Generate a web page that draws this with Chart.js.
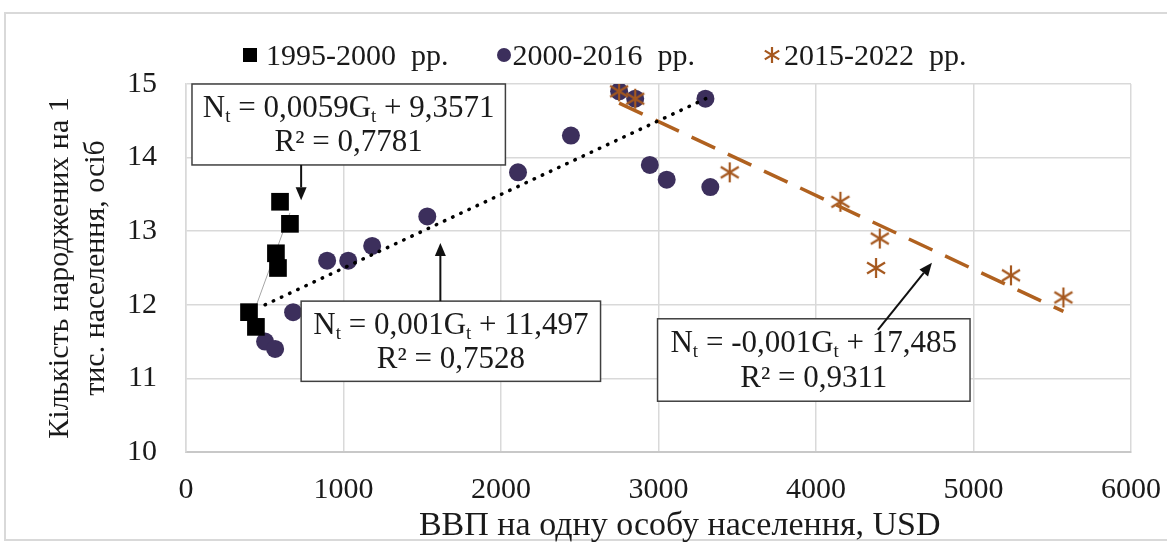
<!DOCTYPE html>
<html lang="uk">
<head>
    <meta charset="UTF-8">
    <script src="https://cdn.jsdelivr.net/npm/chart.js"></script>
    <style>
        body {
            margin: 0;
            background: #fff;
            overflow: hidden;
            font-family: "Liberation Serif", serif;
        }
        .frame {
            position: absolute;
            left: 4px;
            top: 12px;
            width: 1200px;
            height: 525px;
            border: 2px solid #d9d9d9;
        }
        .chart-box {
            position: absolute;
            left: 0;
            top: 0;
            width: 1167px;
            height: 542px;
        }
        .chart-legend {
            position: absolute;
            left: 243px;
            top: 38px;
            display: flex;
            align-items: center;
            font-size: 30px;
            color: #1a1a1a;
            white-space: pre;
        }
        .legend-item {
            display: flex;
            align-items: center;
        }
    </style>
</head>
<body>
    <div class="frame"></div>
    <div class="chart-box"><canvas id="chart"></canvas></div>
    <div class="chart-legend" id="chartLegend"></div>

    <script>
        // 1995-2000 рр.
        const gdp1 = [400, 444, 571, 584, 597, 660];
        const births1 = [11.9, 11.7, 12.7, 12.5, 13.4, 13.1];
        // 2000-2016 рр.
        const gdp2 = [502, 566, 680, 896, 1030, 1182, 1532, 2108, 2444, 2750, 2852, 2945, 3052, 3298, 3329];
        const births2 = [11.5, 11.4, 11.9, 12.6, 12.6, 12.8, 13.2, 13.8, 14.3, 14.9, 14.8, 13.9, 13.7, 14.8, 13.6];
        // 2015-2022 рр.
        const gdp3 = [2750, 2852, 3452, 4155, 4405, 4381, 5238, 5571];
        const births3 = [14.9, 14.8, 13.8, 13.4, 12.9, 12.5, 12.4, 12.1];
        // лінії тренду: кінцеві точки
        const trend1X = [400, 660];
        const trend1Y = [11.72, 13.25];
        const trend2X = [502, 3329];
        const trend2Y = [12.0, 14.83];
        const trend3X = [2750, 5571];
        const trend3Y = [14.74, 11.91];

        const seriesLabels = ['1995-2000  рр.', '2000-2016  рр.', '2015-2022  рр.'];
        const xTicks = [0, 1000, 2000, 3000, 4000, 5000, 6000];
        const yTicks = [10, 11, 12, 13, 14, 15];

        // рівняння трендів: рамка [x1, y1, x2, y2] і стрілка [від x, y, до x, y] в одиницях осей
        const notes = [
            { text: ['N_t = 0,0059G_t + 9,3571', 'R² = 0,7781'], box: [38, 15.0, 2028, 13.9], arrow: [731, 13.9, 731, 13.42] },
            { text: ['N_t = 0,001G_t + 11,497', 'R² = 0,7528'], box: [731, 12.05, 2632, 10.96], arrow: [1615, 12.05, 1615, 12.84] },
            { text: ['N_t = -0,001G_t + 17,485', 'R² = 0,9311'], box: [2994, 11.81, 4978, 10.69], arrow: [4393, 11.66, 4736, 12.57] }
        ];

        const pts = (xs, ys) => xs.map((x, i) => ({ x: x, y: ys[i] }));

        function makeStar(size, color) {
            const c = document.createElement('canvas');
            c.width = size;
            c.height = size;
            const g = c.getContext('2d');
            const m = size / 2, r = size / 2 - 1;
            g.strokeStyle = color;
            g.lineWidth = 2.2;
            g.beginPath();
            g.moveTo(m, m - r); g.lineTo(m, m + r);
            g.moveTo(m - r * 0.9, m - r * 0.55); g.lineTo(m + r * 0.9, m + r * 0.55);
            g.moveTo(m - r * 0.9, m + r * 0.55); g.lineTo(m + r * 0.9, m - r * 0.55);
            g.stroke();
            return c;
        }

        const STAR_COLOR = '#a5581f';
        const star = makeStar(22, STAR_COLOR);

        function drawRich(ctx, str, cx, cy) {
            const big = '31px "Liberation Serif"';
            const small = '19px "Liberation Serif"';
            const parts = str.split('_t');
            ctx.font = small;
            const tw = ctx.measureText('t').width;
            ctx.font = big;
            let total = tw * (parts.length - 1);
            parts.forEach(p => { total += ctx.measureText(p).width; });
            let cur = cx - total / 2;
            ctx.textAlign = 'left';
            parts.forEach((p, i) => {
                ctx.font = big;
                ctx.fillText(p, cur, cy);
                cur += ctx.measureText(p).width;
                if (i < parts.length - 1) {
                    ctx.font = small;
                    ctx.fillText('t', cur, cy + 8);
                    cur += tw;
                }
            });
        }

        const notesPlugin = {
            id: 'notes',
            afterDatasetsDraw(chart) {
                const { ctx, scales: { x, y } } = chart;
                ctx.save();
                notes.forEach(n => {
                    const bx1 = x.getPixelForValue(n.box[0]), by1 = y.getPixelForValue(n.box[1]);
                    const bx2 = x.getPixelForValue(n.box[2]), by2 = y.getPixelForValue(n.box[3]);
                    ctx.fillStyle = '#fff';
                    ctx.fillRect(bx1, by1, bx2 - bx1, by2 - by1);
                    ctx.strokeStyle = '#404040';
                    ctx.lineWidth = 1.5;
                    ctx.strokeRect(bx1, by1, bx2 - bx1, by2 - by1);

                    ctx.fillStyle = '#1a1a1a';
                    ctx.textBaseline = 'middle';
                    const h = by2 - by1, cx = (bx1 + bx2) / 2;
                    drawRich(ctx, n.text[0], cx, by1 + h * 0.31);
                    drawRich(ctx, n.text[1], cx, by1 + h * 0.73);

                    const ax1 = x.getPixelForValue(n.arrow[0]), ay1 = y.getPixelForValue(n.arrow[1]);
                    const ax2 = x.getPixelForValue(n.arrow[2]), ay2 = y.getPixelForValue(n.arrow[3]);
                    const ang = Math.atan2(ay2 - ay1, ax2 - ax1);
                    const len = 13, half = 5.5;
                    ctx.strokeStyle = '#111';
                    ctx.lineWidth = 2;
                    ctx.beginPath();
                    ctx.moveTo(ax1, ay1);
                    ctx.lineTo(ax2 - Math.cos(ang) * len, ay2 - Math.sin(ang) * len);
                    ctx.stroke();
                    ctx.fillStyle = '#111';
                    ctx.beginPath();
                    ctx.moveTo(ax2, ay2);
                    ctx.lineTo(ax2 - Math.cos(ang) * len - Math.sin(ang) * half, ay2 - Math.sin(ang) * len + Math.cos(ang) * half);
                    ctx.lineTo(ax2 - Math.cos(ang) * len + Math.sin(ang) * half, ay2 - Math.sin(ang) * len - Math.cos(ang) * half);
                    ctx.closePath();
                    ctx.fill();
                });
                ctx.restore();
            }
        };

        Chart.defaults.font.family = '"Liberation Serif", serif';
        Chart.defaults.color = '#1a1a1a';

        const ctx = document.getElementById('chart').getContext('2d');
        const chart = new Chart(ctx, {
            type: 'scatter',
            data: {
                datasets: [
                    {
                        label: seriesLabels[0],
                        data: pts(gdp1, births1),
                        pointStyle: 'rect',
                        pointRadius: 12.5,
                        backgroundColor: '#000',
                        borderWidth: 0,
                        order: 2
                    },
                    {
                        label: seriesLabels[1],
                        data: pts(gdp2, births2),
                        pointStyle: 'circle',
                        pointRadius: 9,
                        backgroundColor: '#3c2f5c',
                        borderWidth: 0,
                        order: 3
                    },
                    {
                        label: seriesLabels[2],
                        data: pts(gdp3, births3),
                        pointStyle: star,
                        pointRadius: 11,
                        backgroundColor: STAR_COLOR,
                        borderColor: STAR_COLOR,
                        order: 1
                    },
                    {
                        data: pts(trend1X, trend1Y),
                        showLine: true,
                        pointRadius: 0,
                        borderColor: '#a6a6a6',
                        borderWidth: 1,
                        order: 4
                    },
                    {
                        data: pts(trend2X, trend2Y),
                        showLine: true,
                        pointRadius: 0,
                        borderColor: '#000',
                        borderWidth: 3.5,
                        borderDash: [0.5, 8.5],
                        borderCapStyle: 'round',
                        order: 0
                    },
                    {
                        data: pts(trend3X, trend3Y),
                        showLine: true,
                        pointRadius: 0,
                        borderColor: '#b0611f',
                        borderWidth: 3.5,
                        borderDash: [26, 14],
                        order: 0
                    }
                ]
            },
            options: {
                responsive: true,
                maintainAspectRatio: false,
                animation: false,
                events: [],
                layout: {
                    padding: { top: 84, right: 36, bottom: 0, left: 0 }
                },
                scales: {
                    x: {
                        type: 'linear',
                        min: xTicks[0],
                        max: xTicks[xTicks.length - 1],
                        afterBuildTicks: s => { s.ticks = xTicks.map(v => ({ value: v })); },
                        afterFit: s => {
                            s.height = 90;
                            s.paddingLeft = 0;
                            s.paddingRight = 0;
                        },
                        grid: { color: '#d9d9d9', lineWidth: 1.5, drawTicks: false },
                        border: { color: '#c8c8c8', width: 2 },
                        ticks: {
                            padding: 20,
                            font: { size: 30 },
                            callback: v => String(v)
                        },
                        title: {
                            display: true,
                            // пробіли на початку зсувають підпис праворуч, як в оригіналі
                            text: '     ВВП на одну особу населення, USD',
                            font: { size: 34 },
                            padding: { top: 0, bottom: -4 }
                        }
                    },
                    y: {
                        min: yTicks[0],
                        max: yTicks[yTicks.length - 1],
                        afterBuildTicks: s => { s.ticks = yTicks.map(v => ({ value: v })); },
                        afterFit: s => { s.width = 186; },
                        grid: { color: '#d9d9d9', lineWidth: 1.5, drawTicks: false },
                        border: { color: '#d9d9d9', width: 1.5 },
                        ticks: {
                            padding: 29,
                            font: { size: 30 }
                        },
                        title: {
                            display: true,
                            text: ['Кількість народжених на 1', 'тис. населення, осіб'],
                            font: { size: 30 },
                            padding: { top: 42, bottom: 0 }
                        }
                    }
                },
                plugins: {
                    legend: { display: false },
                    tooltip: { enabled: false }
                }
            },
            plugins: [notesPlugin]
        });

        function updateLegend(chart) {
            const legendContainer = document.getElementById('chartLegend');
            legendContainer.innerHTML = '';
            const gaps = [0, 48, 68];
            let n = 0;

            chart.data.datasets.forEach(dataset => {
                if (!dataset.label) return;
                const legendItem = document.createElement('div');
                legendItem.className = 'legend-item';
                legendItem.style.marginLeft = gaps[n++] + 'px';

                let mark;
                if (dataset.pointStyle === 'rect' || dataset.pointStyle === 'circle') {
                    mark = document.createElement('div');
                    mark.style.width = '14px';
                    mark.style.height = '14px';
                    mark.style.background = dataset.backgroundColor;
                    if (dataset.pointStyle === 'circle') mark.style.borderRadius = '50%';
                    mark.style.marginRight = dataset.pointStyle === 'rect' ? '9px' : '2px';
                } else {
                    mark = makeStar(18, STAR_COLOR);
                    mark.style.marginRight = '3px';
                }

                const label = document.createElement('span');
                label.textContent = dataset.label;

                legendItem.appendChild(mark);
                legendItem.appendChild(label);
                legendContainer.appendChild(legendItem);
            });
        }

        updateLegend(chart);
    </script>
</body>
</html>
